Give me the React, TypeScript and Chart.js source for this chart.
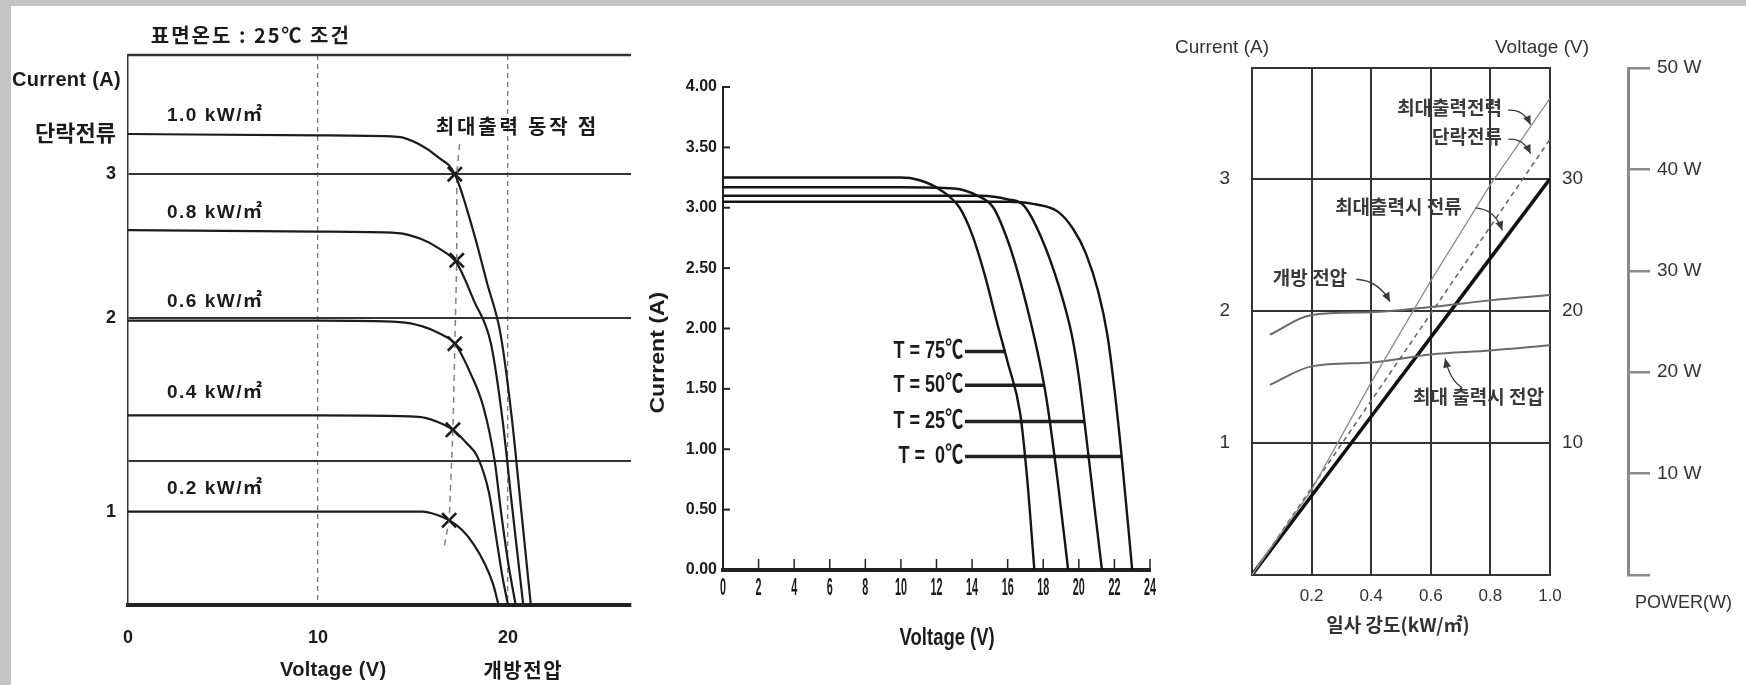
import React, { useEffect, useRef } from "react";
import { Chart, registerables } from "chart.js";

Chart.register(...registerables);

const FONT = '"Liberation Sans", "Noto Sans CJK KR", sans-serif';
const KR = '"Noto Sans CJK KR", "Liberation Sans", sans-serif';
const INK = "#1b1b1b";

// ================= Chart 1 : I-V by irradiance (25℃) =================
const C1_TITLE = "표면온도 : 25℃ 조건";
const C1_Y_TITLE = "Current (A)";
const C1_X_TITLE = "Voltage (V)";
const C1_VOC_TITLE = "개방전압";
const C1_MPP_TITLE = "최대출력 동작 점";
const C1_X_TICKS = [0, 10, 20];
const C1_X_TICK_LABELS = ["0", "10", "20"];
const C1_Y_TICKS = [0.65, 1, 2, 3, 3.27];
const C1_Y_TICK_LABELS = ["1", "", "2", "3", "단락전류"];
const C1_Y_GRID = [1, 2, 3];
const C1_CURVE_LABELS = ["1.0 kW/㎡", "0.8 kW/㎡", "0.6 kW/㎡", "0.4 kW/㎡", "0.2 kW/㎡"];
const C1_LABEL_V = 2.05;
const C1_LABEL_I = [3.41, 2.73, 2.11, 1.475, 0.81];

const C1_V_10 = [0, 10, 14.2, 15.3, 16.3, 17.2, 18.2, 18.9, 19.6, 20.2, 20.7, 21.2];
const C1_I_10 = [3.28, 3.27, 3.26, 3.21, 3.12, 3.0, 2.59, 2.24, 1.89, 1.3, 0.65, 0];
const C1_V_08 = [0, 10, 14.2, 15.4, 16.4, 17.3, 18.2, 19.1, 19.7, 20.2, 20.8];
const C1_I_08 = [2.61, 2.6, 2.59, 2.55, 2.48, 2.38, 2.12, 1.82, 1.3, 0.7, 0];
const C1_V_06 = [0, 10, 14.3, 15.5, 16.4, 17.2, 18.0, 18.7, 19.3, 19.6, 20.0, 20.4];
const C1_I_06 = [1.98, 1.98, 1.97, 1.94, 1.89, 1.82, 1.62, 1.38, 1.0, 0.68, 0.3, 0];
const C1_V_04 = [0, 10, 15.3, 16.2, 17.1, 17.8, 18.4, 19.0, 19.4, 19.7, 20.0];
const C1_I_04 = [1.32, 1.32, 1.31, 1.28, 1.22, 1.13, 1.03, 0.78, 0.45, 0.2, 0];
const C1_V_02 = [0, 10, 15.5, 16.2, 16.9, 17.6, 18.2, 18.8, 19.2, 19.5];
const C1_I_02 = [0.65, 0.65, 0.65, 0.63, 0.59, 0.52, 0.42, 0.28, 0.15, 0];
const C1_MPP_V = [17.2, 17.3, 17.2, 17.1, 16.9];
const C1_MPP_I = [3.0, 2.4, 1.82, 1.22, 0.59];
const C1_LOCUS_V = [17.45, 17.3, 17.3, 17.2, 17.1, 16.9, 16.6];
const C1_LOCUS_I = [3.21, 3.0, 2.4, 1.82, 1.22, 0.59, 0.38];

// ================= Chart 2 : I-V by temperature =================
const C2_Y_TITLE = "Current (A)";
const C2_X_TITLE = "Voltage (V)";
const C2_TEMP_LABELS = ["T = 75℃", "T = 50℃", "T = 25℃", "T =  0℃"];
const C2_V_75 = [0, 10, 11, 12.2, 13.3, 14.0, 14.7, 15.4, 16.0, 16.7, 17.1, 17.5];
const C2_I_75 = [3.25, 3.25, 3.23, 3.15, 3.0, 2.78, 2.45, 2.05, 1.72, 1.3, 0.75, 0];
const C2_V_50 = [0, 10, 13, 14.3, 15.2, 15.9, 16.5, 17.3, 17.8, 18.2, 18.8, 19.4];
const C2_I_50 = [3.17, 3.17, 3.16, 3.1, 3.0, 2.77, 2.5, 2.05, 1.72, 1.4, 0.75, 0];
const C2_V_25 = [0, 10, 14.5, 16, 16.9, 17.9, 18.9, 19.6, 20.0, 20.3, 20.8, 21.3];
const C2_I_25 = [3.1, 3.1, 3.1, 3.07, 3.02, 2.75, 2.34, 1.95, 1.6, 1.25, 0.62, 0];
const C2_V_0 = [0, 10, 16, 17.5, 18.8, 19.7, 20.4, 21.1, 21.6, 22.0, 22.4, 23.0];
const C2_I_0 = [3.05, 3.05, 3.05, 3.03, 2.97, 2.82, 2.62, 2.3, 1.95, 1.5, 0.95, 0];
const C2_POINTER_START_V = 13.6;
const C2_POINTER_END_V = [15.9, 18.1, 20.3, 22.4];
const C2_POINTER_I = [1.81, 1.53, 1.23, 0.94];

// ================= Chart 3 : vs irradiance =================
const C3_Y_TITLE = "Current (A)";
const C3_V_TITLE = "Voltage (V)";
const C3_X_TITLE = "일사 강도(kW/㎡)";
const C3_P_TITLE = "POWER(W)";
const C3_X_TICKS = [0, 0.2, 0.4, 0.6, 0.8, 1.0];
const C3_X_TICK_LABELS = ["", "0.2", "0.4", "0.6", "0.8", "1.0"];
const C3_Y_TICKS = [1, 2, 3];
const C3_V_TICKS = [10, 20, 30];
const C3_P_TICKS = [0, 10, 20, 30, 40, 50];
const C3_P_TICK_LABELS = ["", "10 W", "20 W", "30 W", "40 W", "50 W"];
const C3_IRR = [0, 0.2, 0.4, 0.6, 0.8, 1.0];
const C3_IMP = [0, 0.6, 1.2, 1.8, 2.4, 3.0];
const C3_ISC = [0, 0.66, 1.32, 1.98, 2.64, 3.3];
const C3_PMAX = [0, 8.4, 19.0, 29.0, 38.5, 47.0];
const C3_IRR_V = [0.06, 0.2, 0.4, 0.6, 0.8, 1.0];
const C3_VOC = [18.2, 19.7, 19.9, 20.3, 20.8, 21.2];
const C3_VMP = [14.4, 15.8, 16.1, 16.7, 17.0, 17.4];
const C3_NOTE_TEXT = ["최대출력전력", "단락전류", "최대출력시 전류", "개방 전압", "최대 출력시 전압"];

// annotation layout (data units of chart 3: x = irradiance, y = current)
const C3_NOTE_POS = [
  [0.487, 3.54],
  [0.604, 3.32],
  [0.279, 2.79],
  [0.07, 2.25],
  [0.54, 1.35],
];
const C3_LEADERS = [
  [[0.86, 3.52], [0.91, 3.53], [0.935, 3.41]],
  [[0.86, 3.3], [0.91, 3.31], [0.935, 3.19]],
  [[0.75, 2.78], [0.815, 2.77], [0.84, 2.61]],
  [[0.35, 2.24], [0.425, 2.23], [0.463, 2.07]],
  [[0.705, 1.42], [0.665, 1.47], [0.648, 1.64]],
];

const zip = (xs: number[], ys: number[]) => xs.map((x, i) => ({ x, y: ys[i] }));

function txt(
  ctx: any,
  s: string,
  x: number,
  y: number,
  font: string,
  color: string,
  align: CanvasTextAlign = "left",
  spacing = 0,
  sx = 1,
  sy = 1
) {
  ctx.save();
  ctx.font = font;
  ctx.fillStyle = color;
  ctx.textAlign = align;
  ctx.textBaseline = "middle";
  ctx.letterSpacing = `${spacing}px`;
  ctx.translate(x, y);
  ctx.scale(sx, sy);
  ctx.fillText(s, 0, 0);
  ctx.restore();
}

function leader(ctx: CanvasRenderingContext2D, p: number[][], color: string) {
  const [s, c, e] = p;
  ctx.strokeStyle = color;
  ctx.fillStyle = color;
  ctx.lineWidth = 1.3;
  ctx.beginPath();
  ctx.moveTo(s[0], s[1]);
  ctx.quadraticCurveTo(c[0], c[1], e[0], e[1]);
  ctx.stroke();
  const ang = Math.atan2(e[1] - c[1], e[0] - c[0]);
  const L = 9, W = 4;
  ctx.beginPath();
  ctx.moveTo(e[0], e[1]);
  ctx.lineTo(e[0] - L * Math.cos(ang) + W * Math.sin(ang), e[1] - L * Math.sin(ang) - W * Math.cos(ang));
  ctx.lineTo(e[0] - L * Math.cos(ang) - W * Math.sin(ang), e[1] - L * Math.sin(ang) + W * Math.cos(ang));
  ctx.closePath();
  ctx.fill();
}

const baseOptions = {
  animation: false,
  responsive: false,
  maintainAspectRatio: false,
  devicePixelRatio: 1,
  events: [],
  plugins: { legend: { display: false }, tooltip: { enabled: false } },
};

function curve(xs: number[], ys: number[], color = INK, width = 2.2) {
  return {
    data: zip(xs, ys),
    borderColor: color,
    borderWidth: width,
    pointRadius: 0,
    cubicInterpolationMode: "monotone",
    fill: false,
  };
}

// ------------ configs ------------
function config1(): any {
  const curves = [
    [C1_V_10, C1_I_10],
    [C1_V_08, C1_I_08],
    [C1_V_06, C1_I_06],
    [C1_V_04, C1_I_04],
    [C1_V_02, C1_I_02],
  ];
  const datasets: any[] = curves.map(([v, i]) => curve(v, i));
  datasets.push({
    data: zip(C1_LOCUS_V, C1_LOCUS_I),
    borderColor: "#808080",
    borderWidth: 1.5,
    borderDash: [6, 5],
    pointRadius: 0,
    fill: false,
  });
  datasets.push({
    data: zip(C1_MPP_V, C1_MPP_I),
    showLine: false,
    pointStyle: "crossRot",
    pointRadius: 10,
    pointBorderWidth: 2.6,
    pointBorderColor: INK,
    pointBackgroundColor: INK,
  });
  const plugin = {
    id: "c1deco",
    afterDraw(chart: any) {
      const { ctx, chartArea: a, scales } = chart;
      const x = scales.x, y = scales.y;
      ctx.save();
      ctx.strokeStyle = "#333";
      ctx.lineWidth = 2.5;
      ctx.beginPath();
      ctx.moveTo(a.left, a.top);
      ctx.lineTo(a.right, a.top);
      ctx.stroke();
      txt(ctx, C1_TITLE, x.getPixelForValue(1.2), a.top - 20, `bold 20px ${KR}`, INK, "left", 2);
      txt(ctx, C1_Y_TITLE, a.left - 116, a.top + 25, `bold 20px ${FONT}`, INK, "left", 0.3);
      C1_CURVE_LABELS.forEach((s, k) =>
        txt(ctx, s, x.getPixelForValue(C1_LABEL_V), y.getPixelForValue(C1_LABEL_I[k]), `bold 19px ${FONT}`, INK, "left", 1.5)
      );
      txt(ctx, C1_MPP_TITLE, x.getPixelForValue(16.2), y.getPixelForValue(3.33), `bold 20px ${KR}`, INK, "left", 2.8);
      txt(ctx, C1_X_TITLE, x.getPixelForValue(10.8), a.bottom + 65, `bold 20px ${FONT}`, INK, "center", 0.3);
      txt(ctx, C1_VOC_TITLE, x.getPixelForValue(20.8), a.bottom + 65, `bold 20px ${KR}`, INK, "center", 1.5);
      ctx.restore();
    },
  };
  return {
    type: "line",
    data: { datasets },
    plugins: [plugin],
    options: {
      ...baseOptions,
      layout: { padding: { top: 49, right: 20, left: 0, bottom: 0 } },
      scales: {
        x: {
          type: "linear",
          min: 0,
          max: 26.47,
          afterBuildTicks: (s: any) => { s.ticks = C1_X_TICKS.map((v) => ({ value: v })); },
          afterFit: (s: any) => { s.height = 80; },
          grid: {
            color: (c: any) => (c.tick && c.tick.value > 0 ? "#7a7a7a" : "rgba(0,0,0,0)"),
            lineWidth: 1.3,
            drawTicks: false,
          },
          border: { color: "#222", width: 4, dash: [5, 4] },
          ticks: {
            padding: 22,
            font: { family: FONT, size: 18, weight: "bold" },
            color: INK,
            autoSkip: false,
            maxRotation: 0,
            callback: (_v: any, i: number) => C1_X_TICK_LABELS[i],
          },
        },
        y: {
          type: "linear",
          min: 0,
          max: 3.83,
          afterBuildTicks: (s: any) => { s.ticks = C1_Y_TICKS.map((v) => ({ value: v })); },
          afterFit: (s: any) => { s.width = 117; },
          grid: {
            color: (c: any) => (c.tick && C1_Y_GRID.includes(c.tick.value) ? "#333" : "rgba(0,0,0,0)"),
            lineWidth: 2,
            drawTicks: false,
          },
          border: { color: "#333", width: 1.5 },
          ticks: {
            padding: 12,
            font: (c: any) => ({ family: FONT, size: c.index === C1_Y_TICKS.length - 1 ? 22 : 18, weight: "bold" }),
            color: INK,
            autoSkip: false,
            callback: (_v: any, i: number) => C1_Y_TICK_LABELS[i],
          },
        },
      },
    },
  };
}

function config2(): any {
  const curves = [
    [C2_V_75, C2_I_75],
    [C2_V_50, C2_I_50],
    [C2_V_25, C2_I_25],
    [C2_V_0, C2_I_0],
  ];
  const datasets: any[] = curves.map(([v, i]) => curve(v, i, "#151515", 2.4));
  C2_POINTER_I.forEach((iv, k) => {
    datasets.push({
      data: zip([C2_POINTER_START_V, C2_POINTER_END_V[k]], [iv, iv]),
      borderColor: "#222",
      borderWidth: 3.5,
      pointRadius: 0,
      fill: false,
    });
  });
  const plugin = {
    id: "c2deco",
    afterDraw(chart: any) {
      const { ctx, chartArea: a, scales } = chart;
      const x = scales.x, y = scales.y;
      ctx.save();
      ctx.strokeStyle = "#222";
      ctx.lineWidth = 2;
      y.ticks.forEach((t: any) => {
        const py = y.getPixelForValue(t.value);
        ctx.beginPath();
        ctx.moveTo(a.left, py);
        ctx.lineTo(a.left + 7, py);
        ctx.stroke();
      });
      ctx.lineWidth = 1.5;
      x.ticks.forEach((t: any) => {
        const px = x.getPixelForValue(t.value);
        ctx.beginPath();
        ctx.moveTo(px, a.bottom);
        ctx.lineTo(px, a.bottom - 11);
        ctx.stroke();
        txt(ctx, String(t.value), px, a.bottom + 19, `bold 15px ${FONT}`, INK, "center", 0, 0.72, 1.55);
      });
      C2_TEMP_LABELS.forEach((s, k) =>
        txt(ctx, s, x.getPixelForValue(C2_POINTER_START_V - 0.1), y.getPixelForValue(C2_POINTER_I[k]), `bold 19px ${FONT}`, INK, "right", 0, 0.95, 1.3)
      );
      txt(ctx, C2_X_TITLE, x.getPixelForValue(12.6), a.bottom + 68, `bold 21px ${FONT}`, INK, "center", 0, 0.88, 1.15);
      ctx.translate(a.left - 65, y.getPixelForValue(1.8));
      ctx.rotate(-Math.PI / 2);
      txt(ctx, C2_Y_TITLE, 0, 0, `bold 21px ${FONT}`, INK, "center", 0, 1.1, 1);
      ctx.restore();
    },
  };
  return {
    type: "line",
    data: { datasets },
    plugins: [plugin],
    options: {
      ...baseOptions,
      layout: { padding: { top: 81, right: 15, left: 0, bottom: 0 } },
      scales: {
        x: {
          type: "linear",
          min: 0,
          max: 24,
          afterFit: (s: any) => { s.height = 115; },
          grid: { display: false, drawTicks: false },
          border: { color: "#222", width: 4 },
          ticks: { stepSize: 2, display: false, autoSkip: false },
        },
        y: {
          type: "linear",
          min: 0,
          max: 4,
          afterFit: (s: any) => { s.width = 83; },
          grid: { display: false, drawTicks: false },
          border: { color: "#222", width: 2 },
          ticks: {
            stepSize: 0.5,
            padding: 6,
            autoSkip: false,
            font: { family: FONT, size: 16, weight: "bold" },
            color: INK,
            callback: (v: any) => Number(v).toFixed(2),
          },
        },
      },
    },
  };
}

function config3(): any {
  const datasets: any[] = [
    { ...curve(C3_IRR, C3_PMAX, "#8c8c8c", 1.3), cubicInterpolationMode: "default", tension: 0, yAxisID: "yP" },
    { ...curve(C3_IRR, C3_ISC, "#6a6a6a", 1.6), cubicInterpolationMode: "default", tension: 0, borderDash: [5, 4], yAxisID: "y" },
    { ...curve(C3_IRR_V, C3_VOC, "#6a6a6a", 2), yAxisID: "yV" },
    { ...curve(C3_IRR_V, C3_VMP, "#6a6a6a", 2), yAxisID: "yV" },
    { ...curve(C3_IRR, C3_IMP, "#111", 3.5), cubicInterpolationMode: "default", tension: 0, yAxisID: "y" },
  ];
  const plugin = {
    id: "c3deco",
    afterDraw(chart: any) {
      const { ctx, chartArea: a, scales } = chart;
      const x = scales.x, y = scales.y;
      ctx.save();
      ctx.strokeStyle = "#333";
      ctx.lineWidth = 2;
      ctx.beginPath();
      ctx.moveTo(a.left, a.top);
      ctx.lineTo(a.right, a.top);
      ctx.stroke();
      const f19 = `19px ${FONT}`;
      txt(ctx, C3_Y_TITLE, a.left - 77, a.top - 20, f19, "#333");
      txt(ctx, C3_V_TITLE, a.right - 55, a.top - 20, f19, "#333");
      txt(ctx, C3_X_TITLE, x.getPixelForValue(0.49), a.bottom + 50, `bold 19px ${KR}`, "#333", "center");
      txt(ctx, C3_P_TITLE, scales.yP.left + 7, a.bottom + 28, `18px ${FONT}`, "#333");
      C3_NOTE_TEXT.forEach((s, k) => {
        const [nx, ny] = C3_NOTE_POS[k];
        txt(ctx, s, x.getPixelForValue(nx), y.getPixelForValue(ny), `bold 19px ${KR}`, "#3a3a3a");
        const pts = C3_LEADERS[k].map(([lx, ly]) => [x.getPixelForValue(lx), y.getPixelForValue(ly)]);
        leader(ctx, pts, "#3a3a3a");
      });
      ctx.restore();
    },
  };
  return {
    type: "line",
    data: { datasets },
    plugins: [plugin],
    options: {
      ...baseOptions,
      layout: { padding: { top: 62, right: 0, left: 0, bottom: 0 } },
      scales: {
        x: {
          type: "linear",
          min: 0,
          max: 1,
          afterBuildTicks: (s: any) => { s.ticks = C3_X_TICKS.map((v) => ({ value: v })); },
          afterFit: (s: any) => { s.height = 110; },
          grid: {
            color: (c: any) => (c.tick && c.tick.value > 0.05 && c.tick.value < 0.95 ? "#333" : "rgba(0,0,0,0)"),
            lineWidth: 2,
            drawTicks: false,
          },
          border: { color: "#333", width: 2 },
          ticks: {
            padding: 11,
            autoSkip: false,
            maxRotation: 0,
            font: { family: FONT, size: 17 },
            color: "#333",
            callback: (_v: any, i: number) => C3_X_TICK_LABELS[i],
          },
        },
        y: {
          type: "linear",
          position: "left",
          min: 0,
          max: 3.84,
          afterBuildTicks: (s: any) => { s.ticks = C3_Y_TICKS.map((v) => ({ value: v })); },
          afterFit: (s: any) => { s.width = 87; },
          grid: { color: "#333", lineWidth: 2, drawTicks: false },
          border: { color: "#333", width: 2 },
          ticks: { padding: 22, font: { family: FONT, size: 19 }, color: "#333", callback: (v: any) => String(v) },
        },
        yV: {
          type: "linear",
          position: "right",
          weight: 0,
          min: 0,
          max: 38.4,
          afterBuildTicks: (s: any) => { s.ticks = C3_V_TICKS.map((v) => ({ value: v })); },
          afterFit: (s: any) => { s.width = 78; },
          grid: { drawOnChartArea: false, drawTicks: false },
          border: { color: "#333", width: 2 },
          ticks: { padding: 12, font: { family: FONT, size: 19 }, color: "#333", callback: (v: any) => String(v) },
        },
        yP: {
          type: "linear",
          position: "right",
          weight: 1,
          min: 0,
          max: 50,
          afterBuildTicks: (s: any) => { s.ticks = C3_P_TICKS.map((v) => ({ value: v })); },
          afterFit: (s: any) => { s.width = 118; },
          grid: { drawOnChartArea: false, drawTicks: true, tickLength: 22, color: "#8a8a8a", lineWidth: 2.5 },
          border: { color: "#8a8a8a", width: 3 },
          ticks: {
            padding: 7,
            font: { family: FONT, size: 19 },
            color: "#333",
            autoSkip: false,
            callback: (_v: any, i: number) => C3_P_TICK_LABELS[i],
          },
        },
      },
    },
  };
}

function ChartCanvas({ make, left, top, width, height }: any) {
  const ref = useRef<HTMLCanvasElement | null>(null);
  useEffect(() => {
    const chart = new Chart(ref.current as HTMLCanvasElement, make());
    return () => chart.destroy();
  }, []);
  return (
    <canvas
      ref={ref}
      width={width}
      height={height}
      style={{ position: "absolute", left, top, width, height }}
    />
  );
}

export default function App() {
  return (
    <div style={{ position: "fixed", left: 0, top: 0, width: 1746, height: 685, background: "#c4c4c4", overflow: "hidden" }}>
      <div style={{ position: "absolute", left: 11, top: 6, right: 0, bottom: 0, background: "#ffffff" }} />
      <ChartCanvas make={config1} left={11} top={6} width={640} height={679} />
      <ChartCanvas make={config2} left={640} top={6} width={525} height={679} />
      <ChartCanvas make={config3} left={1165} top={6} width={581} height={679} />
    </div>
  );
}
